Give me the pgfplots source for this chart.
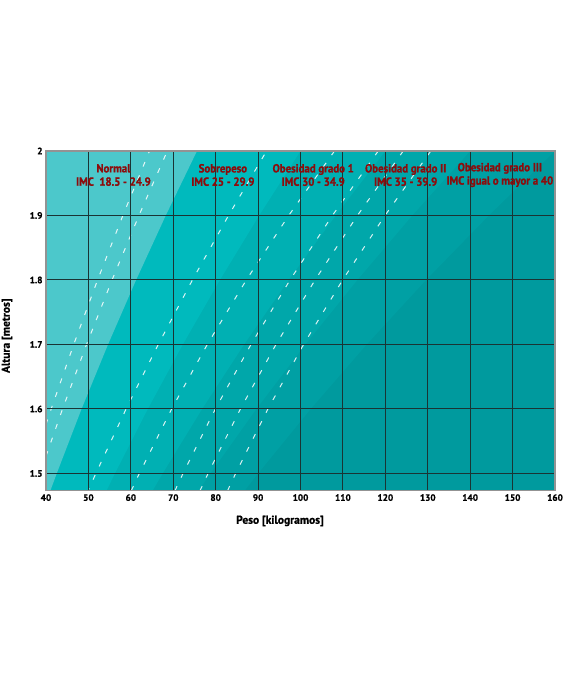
\documentclass[border=0pt]{standalone}
\usepackage{fontspec}
\setmainfont{PT Sans}
\newfontfamily\labfont[FakeStretch=0.92,FakeBold=1.2]{PT Sans}
\newfontfamily\tickfont[FakeBold=0.8]{PT Sans}
\usepackage{pgfplots}
\pgfplotsset{compat=1.18}
\definecolor{c0}{HTML}{4CC8CB}
\definecolor{c1}{HTML}{00BABD}
\definecolor{c2}{HTML}{00B0B3}
\definecolor{c3}{HTML}{00A7AA}
\definecolor{c4}{HTML}{00A0A4}
\definecolor{c5}{HTML}{009A9E}
\definecolor{labred}{HTML}{8C0C0C}
\definecolor{gridc}{HTML}{1A3434}
\begin{document}
\begin{tikzpicture}
\begin{axis}[
  at={(0,0)}, anchor=south west,
  scale only axis, width=509bp, height=339.7bp,
  xmin=40, xmax=160, ymin=1.4733, ymax=2,
  xtick={40,50,60,70,80,90,100,110,120,130,140,150,160},
  xticklabels={40,50,60,70,80,90,100,110,120,130,140,150,160},
  ytick={1.5,1.6,1.7,1.8,1.9,2},
  yticklabels={1.5,1.6,1.7,1.8,1.9,2},
  /pgf/number format/assume math mode=true,
  tick label style={font=\tickfont\bfseries\fontsize{9.3}{10}\selectfont},
  major tick length=0pt,
  grid=major,
  major grid style={draw=gridc, line width=1bp},
  axis on top,
  axis line style={draw=gray!85, line width=1.2bp},
  axis background/.style={fill=c5},
]
% BMI 40
\addplot[fill=c4, draw=none] coordinates {(40,1.47) (86.44,1.47) (90,1.5) (102.4,1.6) (115.6,1.7) (129.6,1.8) (144.4,1.9) (160,2.0) (40,2.0)} --cycle;
% BMI 35
\addplot[fill=c3, draw=none] coordinates {(40,1.47) (75.63,1.47) (78.75,1.5) (89.6,1.6) (101.15,1.7) (113.4,1.8) (126.35,1.9) (140,2.0) (40,2.0)} --cycle;
% BMI 30
\addplot[fill=c2, draw=none] coordinates {(40,1.47) (64.83,1.47) (67.5,1.5) (76.8,1.6) (86.7,1.7) (97.2,1.8) (108.3,1.9) (120,2.0) (40,2.0)} --cycle;
% BMI 25
\addplot[fill=c1, draw=none] coordinates {(40,1.47) (54.02,1.47) (56.25,1.5) (64,1.6) (72.25,1.7) (81,1.8) (90.25,1.9) (100,2.0) (40,2.0)} --cycle;
% BMI 18.9
\addplot[fill=c0, draw=none] coordinates {(40,1.47) (40.84,1.47) (42.53,1.5) (48.38,1.6) (54.62,1.7) (61.24,1.8) (68.23,1.9) (75.6,2.0) (40,2.0)} --cycle;
% dashed lines
\pgfplotsset{dl/.style={white, opacity=0.85, line width=1bp, dash pattern=on 5bp off 9.5bp}}
\addplot[dl] coordinates {(40,1.5762) (41.22,1.6) (46.53,1.7) (52.16,1.8) (58.12,1.9) (64.4,2.0)};
\addplot[dl] coordinates {(40,1.527) (43.90,1.6) (49.56,1.7) (55.57,1.8) (61.91,1.9) (68.6,2.0)};
\addplot[dl] coordinates {(49.70,1.47) (51.75,1.5) (58.88,1.6) (66.47,1.7) (74.52,1.8) (83.03,1.9) (92.0,2.0)};
\addplot[dl] coordinates {(60.10,1.4733) (62.0,1.5) (69.62,1.6) (78.02,1.7) (87.23,1.8) (97.22,1.9) (108.02,2.0)};
\addplot[dl] coordinates {(70.40,1.4733) (72.30,1.5) (79.92,1.6) (88.32,1.7) (97.53,1.8) (107.52,1.9) (118.32,2.0)};
\addplot[dl] coordinates {(76.30,1.4733) (78.20,1.5) (85.82,1.6) (94.22,1.7) (103.43,1.8) (113.42,1.9) (124.22,2.0)};
\addplot[dl] coordinates {(82.80,1.4733) (84.70,1.5) (92.32,1.6) (100.72,1.7) (109.93,1.8) (119.92,1.9) (130.72,2.0)};
\coordinate (t1) at (axis cs:55.9,1.9628);
\coordinate (t2) at (axis cs:81.7,1.9628);
\coordinate (t3) at (axis cs:103.0,1.9628);
\coordinate (t4) at (axis cs:124.8,1.9628);
\coordinate (t5) at (axis cs:147.0,1.9628);
\end{axis}
\tikzset{lab/.style={font=\labfont\bfseries\fontsize{11.8}{13.4}\selectfont, text=labred, align=center, inner sep=0pt}}
\node[lab] at (t1) {Normal\\IMC~~18.5 - 24.9};
\node[lab] at (t2) {Sobrepeso\\IMC 25 - 29.9};
\node[lab] at (t3) {Obesidad grado 1\\IMC 30 - 34.9};
\node[lab] at (t4) {Obesidad grado II\\IMC 35 - 39.9};
\node[lab] at (t5) {Obesidad grado III\\IMC igual o mayor a 40};
\node[font=\tickfont\bfseries\fontsize{11.5}{12}\selectfont] at (234bp,-30.3bp) {Peso [kilogramos]};
\node[font=\tickfont\bfseries\fontsize{11.5}{12}\selectfont, rotate=90] at (-39bp,155bp) {Altura [metros]};
\pgfresetboundingbox
\useasboundingbox (-46bp,-184.3bp) rectangle (517bp,490.7bp);
\end{tikzpicture}
\end{document}
